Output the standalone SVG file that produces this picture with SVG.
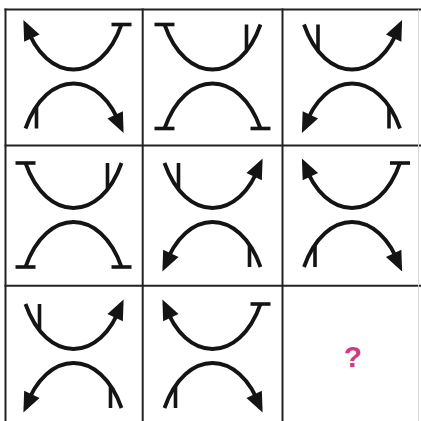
<svg xmlns="http://www.w3.org/2000/svg" width="421" height="421" viewBox="0 0 421 421">
<style>
.arc{fill:none;stroke:#141414;stroke-width:3.8}
.bar{stroke:#141414;stroke-width:3.6;fill:none}
.head{fill:#141414}
.grid{stroke:#222;stroke-width:2;fill:none}
.q{font-family:"Liberation Sans",Arial,sans-serif;font-weight:bold;font-size:30px;fill:#d6387f}
</style>
<defs>
<path id="up" class="arc" d="M -48 0 C -27 60 27 60 48 0"/>
<path id="lo" class="arc" d="M -48 104 C -27 44 27 44 48 104"/>
<path id="ah" class="head" d="M0,0 L-20,-8.5 L-20,8.5 Z"/>
<g id="typeA">
<use href="#up"/><use href="#lo"/>
<use href="#ah" transform="translate(-50.1,-4.5) rotate(-115)"/>
<line class="bar" x1="38" y1="0" x2="58" y2="0"/>
<line class="bar" x1="-37" y1="104" x2="-37" y2="82"/>
<use href="#ah" transform="translate(50.1,108.5) rotate(65)"/>
</g>
<g id="typeB">
<use href="#up"/><use href="#lo"/>
<line class="bar" x1="-58" y1="0" x2="-38" y2="0"/>
<line class="bar" x1="34" y1="0" x2="34" y2="26"/>
<line class="bar" x1="-58" y1="104" x2="-38" y2="104"/>
<line class="bar" x1="38" y1="104" x2="58" y2="104"/>
</g>
<g id="typeC">
<use href="#up"/><use href="#lo"/>
<line class="bar" x1="-34" y1="0" x2="-34" y2="26"/>
<use href="#ah" transform="translate(50.1,-4.5) rotate(-65)"/>
<use href="#ah" transform="translate(-50.1,108.5) rotate(115)"/>
<line class="bar" x1="37" y1="104" x2="37" y2="82"/>
</g>
</defs>
<rect x="0" y="0" width="421" height="421" fill="#ffffff"/>
<g id="grid">
<line class="grid" x1="5.5" y1="8.5" x2="5.5" y2="421"/>
<line class="grid" x1="142.7" y1="8.5" x2="142.7" y2="421"/>
<line class="grid" x1="282.5" y1="8.5" x2="282.5" y2="421"/>
<line class="grid" x1="4.5" y1="9.5" x2="421" y2="9.5"/>
<line class="grid" x1="4.5" y1="145.5" x2="421" y2="145.5"/>
<line class="grid" x1="4.5" y1="285.7" x2="421" y2="285.7"/>
<line x1="418.5" y1="9.5" x2="418.5" y2="421" stroke="#d8d8d8" stroke-width="1"/>
</g>
<g id="cell-1-1" transform="translate(73.5,24.5)"><use href="#typeA"/></g>
<g id="cell-1-2" transform="translate(212.5,24.5)"><use href="#typeB"/></g>
<g id="cell-1-3" transform="translate(352,24.5)"><use href="#typeC"/></g>
<g id="cell-2-1" transform="translate(73.5,163)"><use href="#typeB"/></g>
<g id="cell-2-2" transform="translate(212.5,163)"><use href="#typeC"/></g>
<g id="cell-2-3" transform="translate(352,163)"><use href="#typeA"/></g>
<g id="cell-3-1" transform="translate(73.5,304)"><use href="#typeC"/></g>
<g id="cell-3-2" transform="translate(212.5,304)"><use href="#typeA"/></g>
<g id="cell-3-3"><text class="q" x="353" y="367" text-anchor="middle">?</text></g>
</svg>
